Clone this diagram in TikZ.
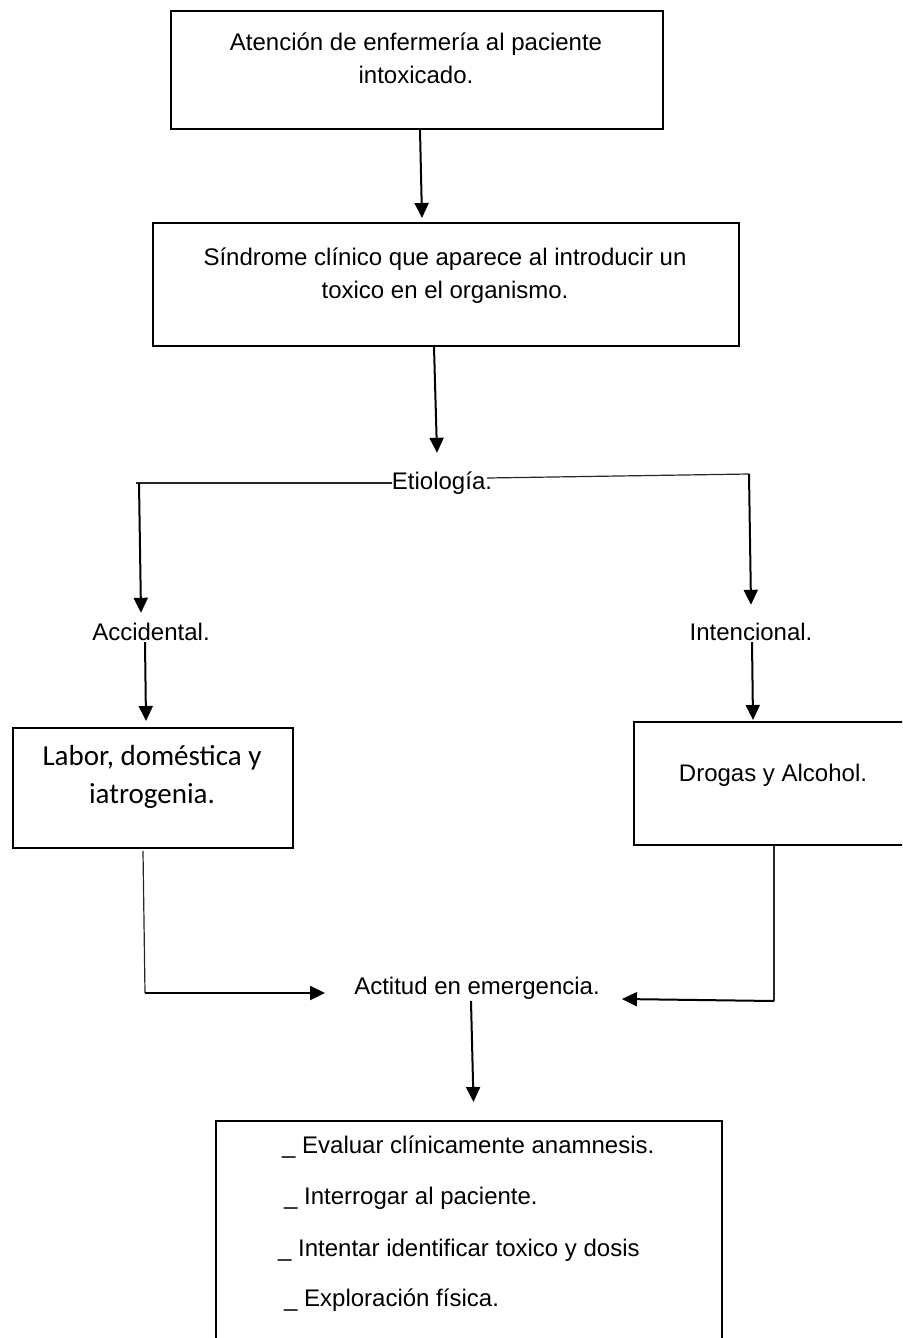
\documentclass[tikz,border=0pt]{standalone}
\usepackage{fontspec}
\setmainfont{Liberation Sans}
\newfontfamily\carl{Carlito}
\usetikzlibrary{arrows.meta,calc}
\begin{document}
\begin{tikzpicture}[x=1pt,y=-1pt,
  box/.style={draw,line width=2pt,inner sep=0pt,anchor=north west},
  txt/.style={font=\fontsize{24}{28}\selectfont,inner sep=0pt,anchor=base,text height=17pt,text depth=5pt},
  ltxt/.style={txt,anchor=base west},
  ctxt/.style={font=\carl\fontsize{29}{34}\selectfont,inner sep=0pt,anchor=base},
  arr/.style={line width=2pt,-{Triangle[width=14pt,length=15pt]}},
  thinl/.style={line width=1.2pt,black!85}]
\useasboundingbox (0,0) rectangle (902,1338);
\clip (0,0) rectangle (902,1338);
% boxes
\node[box,minimum width=492pt,minimum height=118pt] (b1) at (170,10) {};
\node[box,minimum width=586pt,minimum height=123pt] (b2) at (152,222) {};
\node[box,minimum width=280pt,minimum height=120pt] (b3) at (12,727) {};
\node[box,minimum width=280pt,minimum height=123pt] (b4) at (633,721) {};
\node[box,minimum width=506pt,minimum height=300pt] (b5) at (215,1120) {};
% texts
\node[txt] (b1a) at (416,51) {Atención de enfermería al paciente};
\node[txt] (b1b) at (416,83) {intoxicado.};
\node[txt] (b2a) at (445,265) {Síndrome clínico que aparece al introducir un};
\node[txt] (b2b) at (445,298) {toxico en el organismo.};
\node[txt] (etio) at (442,489) {Etiología.};
\node[txt] (acc) at (151,640) {Accidental.};
\node[txt] (int) at (751,640) {Intencional.};
\node[ctxt] (b3a) at (152,765) {Labor, doméstica y};
\node[ctxt] (b3b) at (152,803) {iatrogenia.};
\node[txt] (b4a) at (773,781) {Drogas y Alcohol.};
\node[txt] (act) at (477,994) {Actitud en emergencia.};
\node[ltxt] (l1) at (282,1153) {\_ Evaluar clínicamente anamnesis.};
\node[ltxt] (l2) at (284,1204) {\_ Interrogar al paciente.};
\node[ltxt] (l3) at (278,1256) {\_ Intentar identificar toxico y dosis};
\node[ltxt] (l4) at (284,1306) {\_ Exploración física.};
% corner coordinates
\coordinate (cl) at (136,483);
\coordinate (cr) at (749,474);
\coordinate (c3) at (145,993);
\coordinate (c4) at (774,1001);
% connectors
\draw[arr] ($(b1.south)+(3,0)$) -- ($(b2.north)+(-24,-4)$);
\draw[arr] ($(b2.south)+(-12,0)$) -- ($(etio.north)+(-5,-19)$);
\draw[thinl] (etio.west) -- (cl);
\draw[thinl] ($(etio.east)+(-5,-5)$) -- (cr);
\draw[arr] ($(cl)+(3,0)$) -- ($(acc.north)+(-10,-10)$);
\draw[arr] (cr) -- ($(int.north)+(0,-18)$);
\draw[arr] ($(acc.south)+(-6,-3)$) -- ($(b3.north)+(-7,-6)$);
\draw[arr] ($(int.south)+(1,-3)$) -- ($(b4.north)+(-21,-1)$);
\draw[thinl] ($(b3.south)+(-10,2)$) -- (c3);
\draw[arr] (c3) -- ($(act.west)+(-29,5)$);
\draw[thinl] (b4.south) -- (c4);
\draw[arr] (c4) -- ($(act.east)+(22,11)$);
\draw[arr] ($(act.south)+(-6,2)$) -- ($(b5.north)+(4.5,-18)$);
\end{tikzpicture}
\end{document}
